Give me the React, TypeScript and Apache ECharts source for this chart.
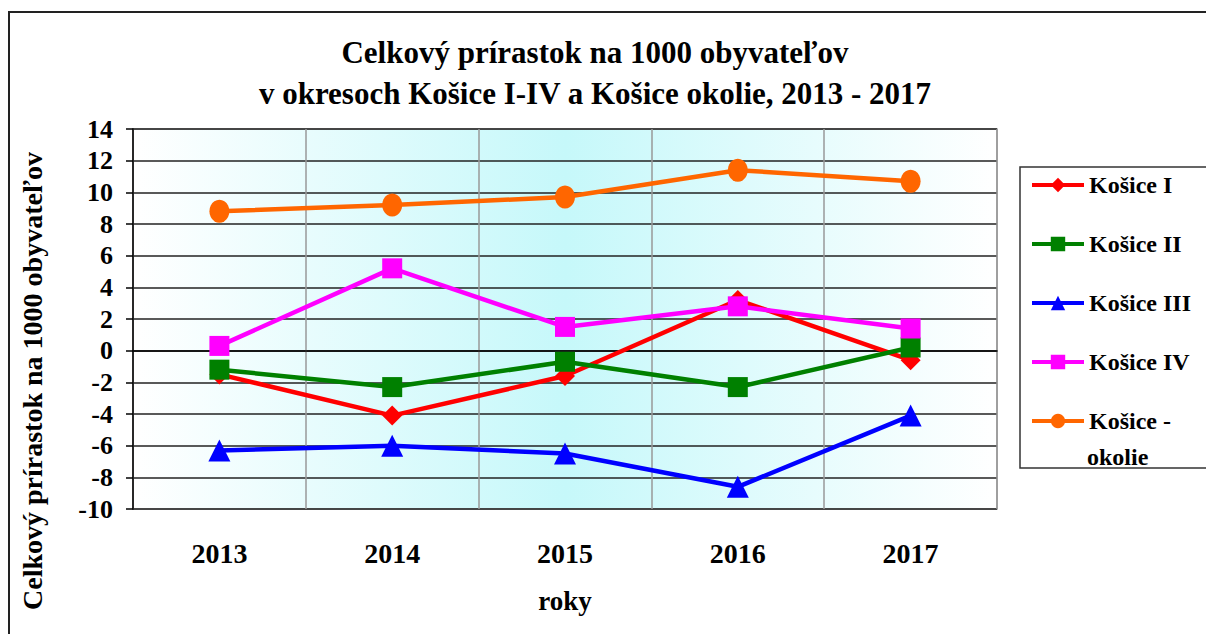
import React, { useEffect, useRef } from "react";
import * as echarts from "echarts";

const years = ["2013", "2014", "2015", "2016", "2017"];
const kosice1 = [-1.5, -4.1, -1.6, 3.2, -0.6];
const kosice2 = [-1.2, -2.3, -0.7, -2.3, 0.2];
const kosice3 = [-6.3, -6.0, -6.5, -8.6, -4.1];
const kosice4 = [0.3, 5.2, 1.5, 2.8, 1.4];
const okolie = [8.8, 9.2, 9.7, 11.4, 10.7];
const seriesNames = ["Košice I", "Košice II", "Košice III", "Košice IV", "Košice - okolie"];

const FONT = "Liberation Serif";

export default function App() {
  const ref = useRef<HTMLDivElement>(null);
  useEffect(() => {
    if (!ref.current) return;
    const chart = echarts.init(ref.current, null, { renderer: "svg" });
    const mk = (name: string, data: number[], color: string, symbol: string, size: any) => ({
      name,
      type: "line",
      data,
      symbol,
      symbolSize: size,
      itemStyle: { color },
      lineStyle: { color, width: 4.5 },
      z: 3,
    });
    chart.setOption({
      animation: false,
      backgroundColor: "#ffffff",
      title: {
        text: "Celkový prírastok na 1000 obyvateľov\nv okresoch Košice I-IV a Košice okolie, 2013 - 2017",
        left: 595,
        top: 32,
        textAlign: "center",
        padding: 0,
        textStyle: {
          fontFamily: FONT,
          fontWeight: "bold",
          fontSize: 31,
          lineHeight: 41,
          color: "#000",
        },
      },
      grid: {
        left: 133,
        top: 129,
        width: 864,
        height: 380,
        show: true,
        borderColor: "#999",
        borderWidth: 1.5,
        backgroundColor: new echarts.graphic.LinearGradient(0, 0, 1, 0, [
          { offset: 0, color: "#ffffff" },
          { offset: 0.5, color: "#c6f8fa" },
          { offset: 1, color: "#ffffff" },
        ]),
      },
      legend: {
        orient: "vertical",
        left: 1030,
        top: 173,
        itemWidth: 52,
        itemHeight: 18,
        itemGap: 35,
        padding: 0,
        data: seriesNames,
        lineStyle: { width: 4 },
        formatter: (n: string) => (n === "Košice - okolie" ? "Košice -" : n),
        textStyle: {
          fontFamily: FONT,
          fontWeight: "bold",
          fontSize: 24,
          lineHeight: 24,
          color: "#000",
        },
      },
      xAxis: {
        type: "category",
        data: years,
        boundaryGap: true,
        axisLine: { lineStyle: { color: "#000", width: 1.5 } },
        axisTick: { show: false },
        splitLine: { show: true, lineStyle: { color: "#999", width: 1.5 } },
        axisLabel: {
          fontFamily: FONT,
          fontWeight: "bold",
          fontSize: 28,
          color: "#000",
          margin: 30,
        },
      },
      yAxis: {
        type: "value",
        min: -10,
        max: 14,
        interval: 2,
        axisLine: { show: true, lineStyle: { color: "#000", width: 1.5 } },
        axisTick: { show: true, length: 7, lineStyle: { color: "#000", width: 1.5 } },
        splitLine: { show: true, lineStyle: { color: "#222", width: 1.5 } },
        axisLabel: {
          fontFamily: FONT,
          fontWeight: "bold",
          fontSize: 26,
          color: "#000",
          margin: 20,
        },
      },
      graphic: [
        {
          type: "rect",
          shape: { x: 9, y: 12, width: 1300, height: 700 },
          style: { fill: "none", stroke: "#222", lineWidth: 2 },
          z: 0,
          silent: true,
        },
        {
          type: "rect",
          shape: { x: 1020, y: 167, width: 220, height: 301 },
          style: { fill: "none", stroke: "#333", lineWidth: 1.5 },
          silent: true,
        },
        {
          type: "text",
          x: 1087,
          y: 457,
          style: {
            text: "okolie",
            fontFamily: FONT,
            fontWeight: "bold",
            fontSize: 24,
            fill: "#000",
            align: "left",
            verticalAlign: "middle",
          },
        },
        {
          type: "text",
          x: 32,
          y: 381,
          rotation: Math.PI / 2,
          style: {
            text: "Celkový prírastok na 1000 obyvateľov",
            fontFamily: FONT,
            fontWeight: "bold",
            fontSize: 28,
            fill: "#000",
            align: "center",
            verticalAlign: "middle",
          },
        },
        {
          type: "text",
          x: 565,
          y: 601,
          style: {
            text: "roky",
            fontFamily: FONT,
            fontWeight: "bold",
            fontSize: 27,
            fill: "#000",
            align: "center",
            verticalAlign: "middle",
          },
        },
      ],
      series: [
        mk(seriesNames[0], kosice1, "#ff0000", "diamond", 20),
        mk(seriesNames[1], kosice2, "#008000", "rect", 20),
        mk(seriesNames[2], kosice3, "#0000ff", "triangle", 22),
        mk(seriesNames[3], kosice4, "#ff00ff", "rect", 20),
        mk(seriesNames[4], okolie, "#ff6600", "circle", [20, 23]),
      ],
    });
    return () => chart.dispose();
  }, []);
  return (
    <div
      ref={ref}
      style={{ position: "fixed", left: 0, top: 0, width: 1206, height: 634 }}
    />
  );
}
